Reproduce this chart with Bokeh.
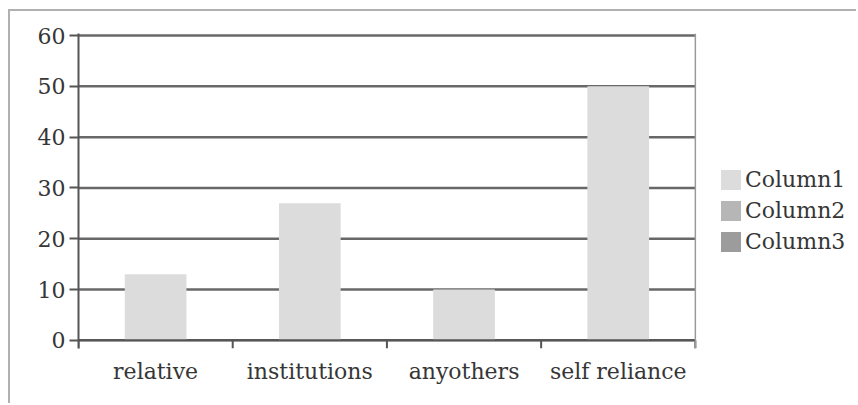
import math

from bokeh.plotting import figure
from bokeh.models import (ColumnDataSource, Legend, LegendItem, FixedTicker,
                          Range1d, Span)
from bokeh.embed import file_html
from bokeh.resources import INLINE

# Categories and series values
categories = ["relative", "institutions", "anyothers", "self reliance"]
column1 = [13, 27, 10, 50]
column2 = [math.nan] * 4  # no values recorded
column3 = [math.nan] * 4  # no values recorded
series_names = ["Column1", "Column2", "Column3"]
series_colors = ["#dcdcdc", "#b6b6b6", "#9c9c9c"]
y_ticks = [0, 10, 20, 30, 40, 50, 60]

FONT = "DejaVu Serif"
AXIS = "#555555"
GRID = "#686868"
TEXT = "#363636"

n = len(categories)
centers = [i + 0.5 for i in range(n)]

# the plot area keeps room on its right for the legend
p = figure(width=848, height=394, x_range=Range1d(0, n * 1.2645),
           y_range=Range1d(-1.6, 60.4), output_backend="svg",
           toolbar_location=None,
           min_border_left=68, min_border_right=0, min_border_top=22,
           min_border_bottom=57)
# light frame drawn around the whole chart
p.styles = {"margin-left": "8px", "margin-top": "9px",
            "border-left": "2px solid #b0b0b0",
            "border-top": "2px solid #b0b0b0"}
p.background_fill_color = "white"
p.border_fill_color = "white"
p.outline_line_color = None
p.xgrid.grid_line_color = None
p.ygrid.grid_line_color = None

# y axis
p.yaxis.ticker = FixedTicker(ticks=y_ticks)
p.yaxis.axis_line_color = AXIS
p.yaxis.axis_line_width = 2
p.yaxis.major_tick_line_color = AXIS
p.yaxis.major_tick_line_width = 2
p.yaxis.major_tick_out = 9
p.yaxis.major_tick_in = 0
p.yaxis.minor_tick_line_color = None
p.yaxis.major_label_text_font = FONT
p.yaxis.major_label_text_font_size = "22px"
p.yaxis.major_label_text_color = TEXT
p.yaxis.major_label_standoff = 4

# x axis: category names under each slot
p.xaxis.ticker = FixedTicker(ticks=centers, minor_ticks=[])
p.xaxis.major_label_overrides = {c: name for c, name in zip(centers, categories)}
p.xaxis.axis_line_color = None
p.xaxis.major_tick_line_color = None
p.xaxis.minor_tick_line_color = None
p.xaxis.major_label_text_font = FONT
p.xaxis.major_label_text_font_size = "22px"
p.xaxis.major_label_text_color = TEXT
p.xaxis.major_label_standoff = 4

# horizontal grid lines across the category slots
p.segment(x0=[0] * len(y_ticks), y0=y_ticks, x1=[n] * len(y_ticks),
          y1=y_ticks, line_color=GRID, line_width=2.5)

src = ColumnDataSource(data=dict(x=centers, c1=column1, c2=column2,
                                 c3=column3))
r1 = p.vbar(x="x", top="c1", width=0.4, source=src,
            fill_color=series_colors[0], line_color=None)
r2 = p.vbar(x="x", top="c2", width=0.4, source=src,
            fill_color=series_colors[1], line_color=None)
r3 = p.vbar(x="x", top="c3", width=0.4, source=src,
            fill_color=series_colors[2], line_color=None)

# category axis line at zero, separator ticks and right edge of the plot area
p.segment(x0=[0], y0=[0], x1=[n], y1=[0], line_color=AXIS, line_width=2)
edges = list(range(n + 1))
p.segment(x0=edges, y0=[0] * (n + 1), x1=edges, y1=[-1.6] * (n + 1),
          line_color=AXIS, line_width=2)
p.add_layout(Span(location=n, dimension="height", line_color="#9a9a9a",
                  line_width=1.5))

legend = Legend(items=[LegendItem(label=s, renderers=[r])
                       for s, r in zip(series_names, [r1, r2, r3])],
                location=(640, 94), orientation="vertical",
                label_text_font=FONT, label_text_font_size="22px",
                label_text_color=TEXT, glyph_width=25, glyph_height=25,
                label_standoff=2, spacing=6, padding=0, margin=0,
                border_line_color=None, background_fill_alpha=0,
                label_height=22)
p.add_layout(legend, "center")

open("out.html", "w").write(file_html(p, INLINE))
